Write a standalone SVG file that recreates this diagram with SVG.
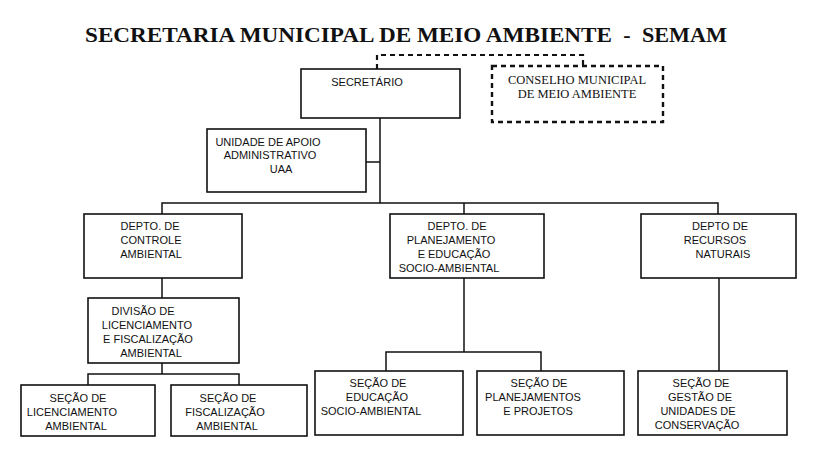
<svg xmlns="http://www.w3.org/2000/svg" width="840" height="472" viewBox="0 0 840 472">
<style>
.box{fill:#fff;stroke:#111;stroke-width:1.6}
.dbox{fill:#fff;stroke:#111;stroke-width:2.4;stroke-dasharray:5 4}
.t{font-family:"Liberation Sans",Arial,sans-serif;font-size:11px;fill:#111;text-anchor:middle}
.ts{font-family:"Liberation Serif","Times New Roman",serif;font-size:12.5px;fill:#111;text-anchor:middle}
.title{font-family:"Liberation Serif","Times New Roman",serif;font-size:22px;font-weight:bold;fill:#111}
.c{fill:none;stroke:#111;stroke-width:1.5}
.cd{fill:none;stroke:#111;stroke-width:2.2;stroke-dasharray:5 4}
</style>
<rect width="840" height="472" fill="#fff"/>
<g id="title">
<text class="title" x="85" y="42" textLength="527" lengthAdjust="spacingAndGlyphs">SECRETARIA MUNICIPAL DE MEIO AMBIENTE</text>
<text class="title" x="627" y="42" text-anchor="middle">-</text>
<text class="title" x="642" y="42" textLength="85" lengthAdjust="spacingAndGlyphs">SEMAM</text>
</g>
<g id="connectors">
<path class="cd" d="M377,69 V55 H583 V66"/>
<path class="c" d="M380,118 V203"/>
<path class="c" d="M366,162 H380"/>
<path class="c" d="M162,214 V203 H718 V214"/>
<path class="c" d="M464,203 V214"/>
<path class="c" d="M162,278 V298"/>
<path class="c" d="M162,363 V374"/>
<path class="c" d="M88,385 V374 H239 V385"/>
<path class="c" d="M464,278 V352"/>
<path class="c" d="M386,371 V352 H541 V371"/>
<path class="c" d="M719,278 V371"/>
</g>
<g id="secretario">
<rect class="box" x="301" y="69" width="159" height="49"/>
<text class="t" x="367" y="86">SECRETÁRIO</text>
</g>
<g id="conselho">
<rect class="dbox" x="492" y="66" width="171" height="56"/>
<text class="ts" x="577" y="84">CONSELHO MUNICIPAL</text>
<text class="ts" x="577" y="98">DE MEIO AMBIENTE</text>
</g>
<g id="uaa">
<rect class="box" x="207" y="129" width="159" height="63"/>
<text class="t" x="268" y="146">UNIDADE DE APOIO</text>
<text class="t" x="270" y="159">ADMINISTRATIVO</text>
<text class="t" x="281" y="173">UAA</text>
</g>
<g id="depto-controle">
<rect class="box" x="84" y="214" width="158" height="64"/>
<text class="t" x="150" y="230">DEPTO. DE</text>
<text class="t" x="151" y="244">CONTROLE</text>
<text class="t" x="151" y="258">AMBIENTAL</text>
</g>
<g id="depto-planejamento">
<rect class="box" x="390" y="214" width="154" height="64"/>
<text class="t" x="457" y="230">DEPTO. DE</text>
<text class="t" x="451" y="244">PLANEJAMENTO</text>
<text class="t" x="454" y="258">E EDUCAÇÃO</text>
<text class="t" x="449" y="272">SOCIO-AMBIENTAL</text>
</g>
<g id="depto-recursos">
<rect class="box" x="641" y="214" width="155" height="64"/>
<text class="t" x="720" y="230">DEPTO DE</text>
<text class="t" x="715" y="244">RECURSOS</text>
<text class="t" x="723" y="258">NATURAIS</text>
</g>
<g id="divisao">
<rect class="box" x="88" y="298" width="151" height="65"/>
<text class="t" x="143" y="315">DIVISÃO DE</text>
<text class="t" x="147" y="329">LICENCIAMENTO</text>
<text class="t" x="148" y="343">E FISCALIZAÇÃO</text>
<text class="t" x="151" y="357">AMBIENTAL</text>
</g>
<g id="secao-licenciamento">
<rect class="box" x="21" y="385" width="134" height="51"/>
<text class="t" x="78" y="402">SEÇÃO DE</text>
<text class="t" x="72" y="416">LICENCIAMENTO</text>
<text class="t" x="76" y="430">AMBIENTAL</text>
</g>
<g id="secao-fiscalizacao">
<rect class="box" x="171" y="385" width="136" height="51"/>
<text class="t" x="228" y="402">SEÇÃO DE</text>
<text class="t" x="225" y="416">FISCALIZAÇÃO</text>
<text class="t" x="227" y="430">AMBIENTAL</text>
</g>
<g id="secao-educacao">
<rect class="box" x="315" y="371" width="148" height="64"/>
<text class="t" x="378" y="387">SEÇÃO DE</text>
<text class="t" x="377" y="401">EDUCAÇÃO</text>
<text class="t" x="371" y="415">SOCIO-AMBIENTAL</text>
</g>
<g id="secao-planejamentos">
<rect class="box" x="477" y="371" width="147" height="64"/>
<text class="t" x="539" y="387">SEÇÃO DE</text>
<text class="t" x="533" y="401">PLANEJAMENTOS</text>
<text class="t" x="538" y="415">E PROJETOS</text>
</g>
<g id="secao-gestao">
<rect class="box" x="638" y="371" width="149" height="64"/>
<text class="t" x="701" y="387">SEÇÃO DE</text>
<text class="t" x="700" y="401">GESTÃO DE</text>
<text class="t" x="698" y="415">UNIDADES DE</text>
<text class="t" x="697" y="429">CONSERVAÇÃO</text>
</g>
</svg>
